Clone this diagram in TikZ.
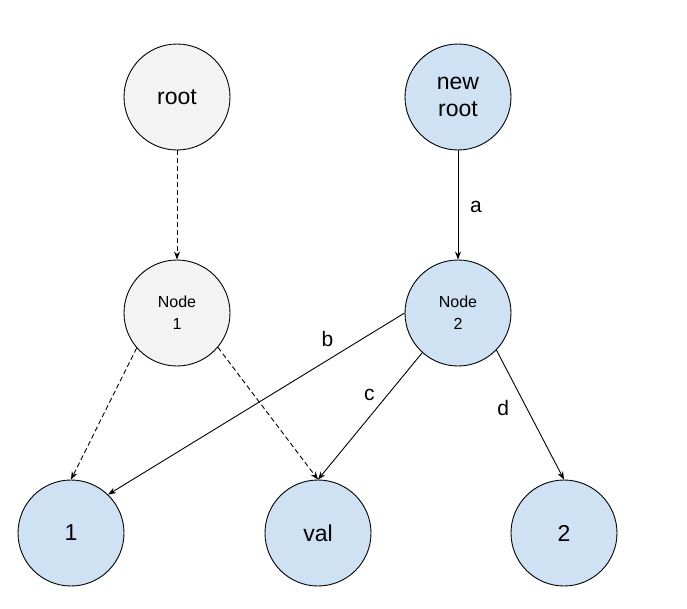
\documentclass[tikz,border=0pt]{standalone}
\usepackage{fontspec}
\setmainfont{Liberation Sans}
\usetikzlibrary{arrows.meta}
\definecolor{greyfill}{HTML}{F3F3F3}
\definecolor{bluefill}{HTML}{CFE2F3}
\tikzset{
  circ/.style={circle, draw=black, line width=0.9pt, minimum size=106pt, inner sep=0pt, align=center},
  oldn/.style={circ, fill=greyfill},
  newn/.style={circ, fill=bluefill},
  big/.style={font=\fontsize{23}{27}\selectfont},
  small/.style={font=\fontsize{16}{22}\selectfont},
  conn/.style={line width=0.9pt, -{Stealth[length=8pt,width=6pt]}},
  dconn/.style={conn, dash pattern=on 5pt off 3pt},
  lbl/.style={font=\fontsize{21}{25}\selectfont, inner sep=0pt}
}
\begin{document}
\begin{tikzpicture}[x=1pt,y=-1pt]
\useasboundingbox[fill=white] (0,0) rectangle (687,608);
\node[oldn,big] (root) at (177,97) {root};
\node[newn,big] (nroot) at (458,97) {new\\root};
\node[oldn,small] (n1) at (177,313) {Node\\1};
\node[newn,small] (n2) at (458,313) {Node\\2};
\node[newn,big] (one) at (71,533) {1};
\node[newn,big] (val) at (318,533) {val};
\node[newn,big] (two) at (564,533) {2};
\draw[dconn] (root) -- (n1);
\draw[dconn] (n1.221) -- (one.north);
\draw[dconn] (n1.320) -- (val.north);
\draw[conn] (nroot) -- node[lbl, pos=0.52, xshift=18pt] {a} (n2);
\draw[conn] (n2.west) -- node[lbl, pos=0.26, yshift=21pt] {b} (one.46);
\draw[conn] (n2.228) -- node[lbl, pos=0.334, xshift=-18pt] {c} (val.north);
\draw[conn] (n2.316) -- node[lbl, pos=0.447, xshift=-23.5pt] {d} (two.north);
\end{tikzpicture}
\end{document}
